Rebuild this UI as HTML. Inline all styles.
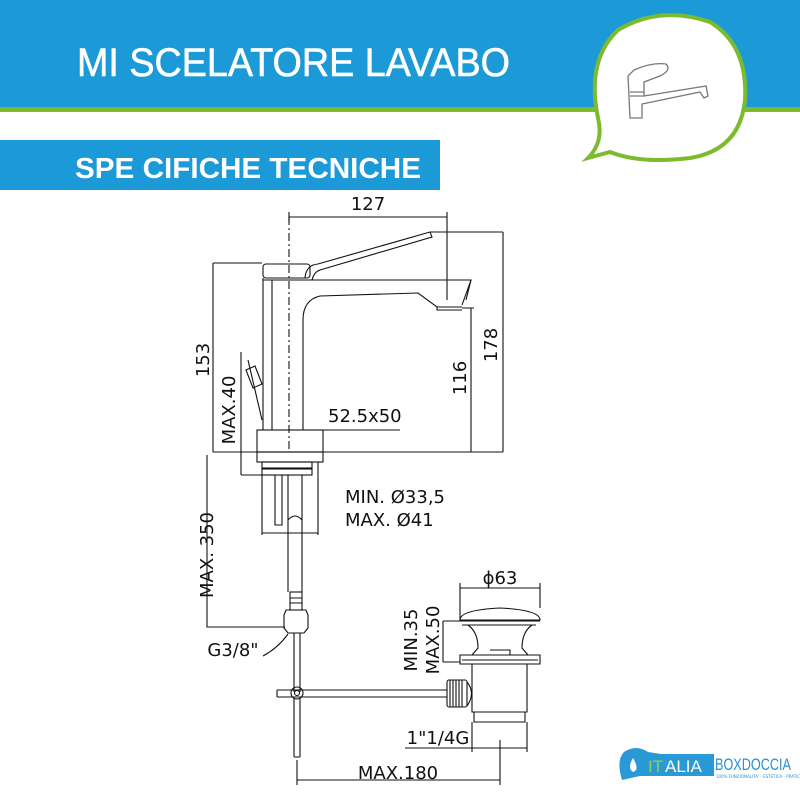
<!DOCTYPE html>
<html><head><meta charset="utf-8"><style>
html,body{margin:0;padding:0;background:#fff;width:800px;height:800px;overflow:hidden}
svg{display:block}
text{font-family:"DejaVu Sans","Liberation Sans",sans-serif;fill:#111}
</style></head><body>
<svg width="800" height="800" viewBox="0 0 800 800" xmlns="http://www.w3.org/2000/svg">
<rect width="800" height="107" fill="#1b9ad7"/>
<rect y="107" width="800" height="5" fill="#7dbb2e"/>
<text x="77" y="76" font-size="40" style="fill:#fff;font-family:'Liberation Sans',sans-serif" stroke="#fff" stroke-width="0.6" textLength="433" lengthAdjust="spacingAndGlyphs">MI SCELATORE LAVABO</text>
<rect x="0" y="140" width="440" height="50" fill="#1b9ad7"/>
<text x="75" y="178" font-size="29" font-weight="bold" style="fill:#fff;font-family:'Liberation Sans',sans-serif" textLength="346" lengthAdjust="spacingAndGlyphs">SPE CIFICHE TECNICHE</text>
<!-- bubble -->
<path d="M588,158 Q604,142 598,118 Q586,60 618,30 Q660,5 710,22 Q748,45 745,100 Q740,150 690,158 Q640,164 610,152 Z" fill="#fff" stroke="#7dbb2e" stroke-width="4"/>
<g fill="none" stroke="#777" stroke-width="1.3">
<path d="M628,76 L630,118 L642,118 L642,104 L700,92 L704,98 L708,96 L706,86 L644,96 L644,82 L660,76 Q672,70 666,64 Q652,62 634,70 Z"/>
<path d="M630,92 L644,92 M630,96 L644,96"/>
</g>
<!-- drawing -->
<g fill="none" stroke="#111" stroke-width="1.1">
<path d="M289,217 H447 M289,212 V222 M447,212 V222 M447,215 V300"/>
<path d="M289,217 V450" stroke-dasharray="8,3,2,3"/>
<rect x="263" y="264" width="47" height="14" rx="3"/>
<path d="M305,278 Q306,265 318,264 L430,232 L432,237 L320,270 Q314,272 312,280"/>
<path d="M263,278 V430 M272,280 V430 M263,280 H471 L462,305 M303,430 V320 Q303,300 320,296 L418,293 L437,307 H462 M437,307 V310 H462"/>
<path d="M430,232 H503 M471,280 L466,300"/>
<rect x="257" y="430" width="66" height="22"/>
<rect x="257" y="452" width="66" height="10"/>
<rect x="262" y="462" width="50" height="6"/>
<rect x="262" y="469" width="50" height="6"/>
<path d="M275,475 V525 H282 V475 M288,475 V592 M302,475 V592"/>
<path d="M288,520 Q295,512 302,520"/>
<path d="M213,263 H262 M213,263 V452 M213,452 H503 M503,232 V452 M471,308 V452 M462,308 H474"/>
<path d="M241,352 V475 M241,475 H262 M262,475 V535 M318,462 V535 M262,533 H318"/>
<path d="M323,430 H400"/>
<path d="M207,455 V627 H285"/>
<path d="M248,360 L262,420 M246,370 L255,366 L262,384 L253,388 Z"/>
<rect x="290" y="592" width="12" height="18"/>
<path d="M290,598 H302 M290,603 H302"/>
<path d="M286,610 H306 L308,615 V628 L304,633 H288 L284,628 V615 Z"/>
<path d="M294,633 V692 M300,633 V692 M294,698 V757 M300,698 V757 M294,757 H300"/>
<path d="M263,656 Q278,648 288,634"/>
<path d="M277,690 H447 M277,697 H447 M277,690 V697"/>
<circle cx="297" cy="693" r="6"/><circle cx="297" cy="693" r="2.5"/>
<path d="M460,620 Q460,610 500,608 Q540,610 540,620 Z"/>
<path d="M460,621 H540 M462,625 H536"/>
<path d="M468,625 Q478,632 478,648 L472,655 M532,625 Q522,632 522,648 L528,655"/>
<path d="M460,655 H540 V664 H460 Z M462,660 H538"/>
<path d="M472,664 V712 H527 V664 M474,712 V722 H525 V712"/>
<path d="M490,650 H510 V655"/>
<rect x="447" y="680" width="20" height="27" rx="2"/>
<path d="M450,680 V707 M453,680 V707 M456,680 V707 M459,680 V707 M462,680 V707 M467,682 Q476,693 467,706"/>
<path d="M460,588 H540 M460,583 V620 M540,583 V608"/>
<path d="M443,621 H470 M443,662 H460 M443,621 V662"/>
<path d="M405,748 H527 M472,722 V752 M527,722 V752"/>
<path d="M297,780 H500 M297,760 V785 M500,740 V785"/>
</g>
<g font-size="18">
<text x="368" y="210" text-anchor="middle">127</text>
<text x="328" y="422">52.5x50</text>
<text x="345" y="503">MIN. Ø33,5</text>
<text x="345" y="526">MAX. Ø41</text>
<text x="500" y="584" text-anchor="middle">ϕ63</text>
<text x="233" y="656" text-anchor="middle">G3/8"</text>
<text x="438" y="744" text-anchor="middle">1"1/4G</text>
<text x="398" y="779" text-anchor="middle">MAX.180</text>
<text transform="translate(209,360) rotate(-90)" text-anchor="middle">153</text>
<text transform="translate(235,410) rotate(-90)" text-anchor="middle">MAX.40</text>
<text transform="translate(213,555) rotate(-90)" text-anchor="middle">MAX. 350</text>
<text transform="translate(466,378) rotate(-90)" text-anchor="middle">116</text>
<text transform="translate(497,345) rotate(-90)" text-anchor="middle">178</text>
<text transform="translate(417,640) rotate(-90)" text-anchor="middle">MIN.35</text>
<text transform="translate(439,640) rotate(-90)" text-anchor="middle">MAX.50</text>
</g>
<path d="M622,780 Q616,760 624,752 Q636,744 648,752 L668,755 V776 H640 Z" fill="#2a9ad6"/>
<path d="M633,758 Q627,768 633,772 Q640,770 633,758 Z" fill="#fff"/>
<rect x="646" y="754" width="68" height="22" fill="#2a9ad6"/>
<text x="648" y="772" font-size="17" style="fill:#8fd14f;font-family:'Liberation Sans',sans-serif">IT</text>
<text x="665" y="772" font-size="17" style="fill:#fff;font-family:'Liberation Sans',sans-serif">ALIA</text>
<text x="715" y="770" font-size="17" style="fill:#2a8fcf;font-family:'Liberation Sans',sans-serif" textLength="76" lengthAdjust="spacingAndGlyphs">BOXDOCCIA</text>
<text x="716" y="778" font-size="4" style="fill:#2a8fcf">100% FUNZIONALITA' - ESTETICA - PRATICITA'</text>
</svg>
</body></html>
